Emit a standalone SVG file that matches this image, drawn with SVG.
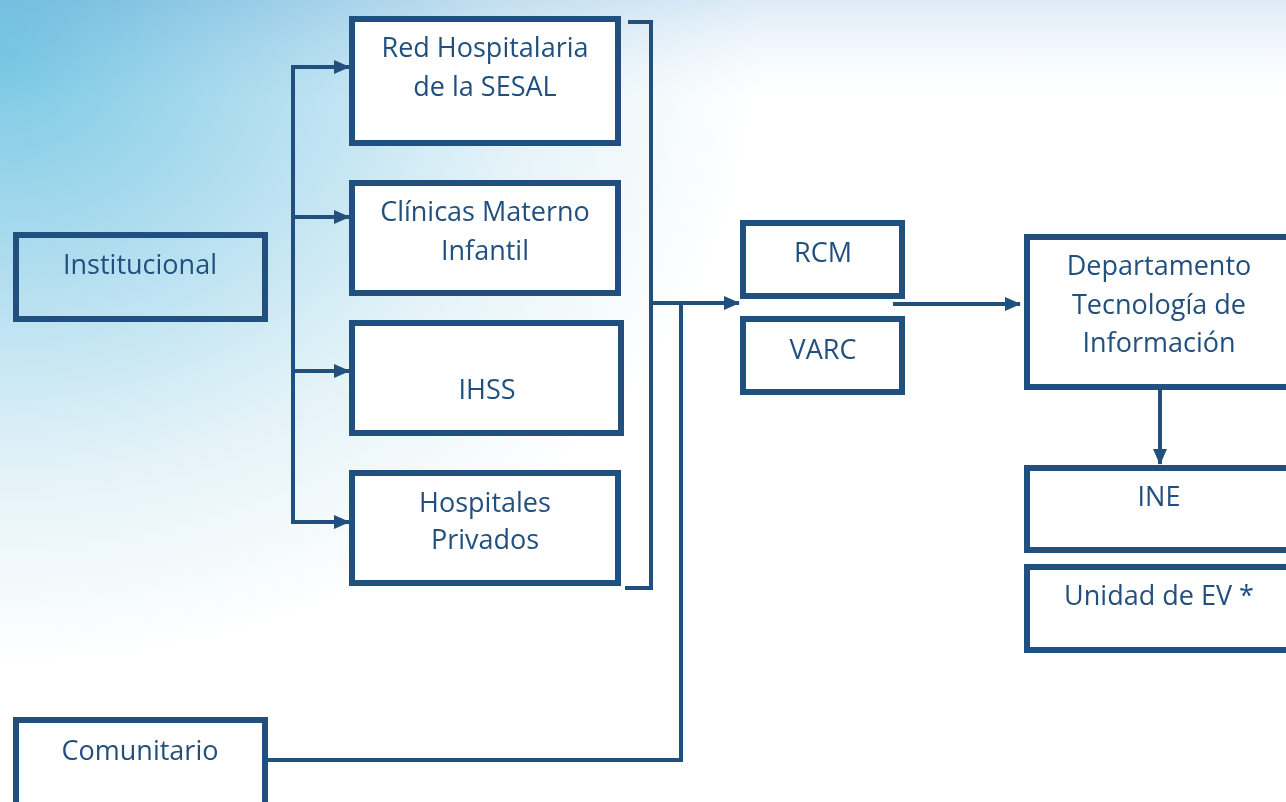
<svg xmlns="http://www.w3.org/2000/svg" width="1286" height="802" viewBox="0 0 1286 802">
<defs>
<radialGradient id="bg" gradientUnits="userSpaceOnUse" cx="0" cy="60" r="950" gradientTransform="translate(0,60) scale(1,0.8) translate(0,-60)">
<stop offset="0" stop-color="#7ac9e4"/>
<stop offset="0.3" stop-color="#b5dff0"/>
<stop offset="0.55" stop-color="#e4f3f8"/>
<stop offset="0.8" stop-color="#ffffff"/>
</radialGradient>
<linearGradient id="top" x1="0" y1="0" x2="0" y2="100" gradientUnits="userSpaceOnUse">
<stop offset="0" stop-color="#dcebf7" stop-opacity="1"/>
<stop offset="1" stop-color="#f2f7fc" stop-opacity="0"/>
</linearGradient>
<marker id="arr" markerUnits="userSpaceOnUse" markerWidth="16" markerHeight="14" refX="15" refY="7" orient="auto">
<path d="M0,0 L16,7 L0,14 Z" fill="#22507e"/>
</marker>
<style>
.box{fill:#ffffff;stroke:#22507e;stroke-width:6}
.open{fill:none;stroke:#22507e;stroke-width:6}
.ln{fill:none;stroke:#22507e;stroke-width:4}
.t{font-family:"Open Sans","Liberation Sans",sans-serif;font-size:27px;fill:#22507e;text-anchor:middle}
</style>
</defs>
<rect x="0" y="0" width="1286" height="802" fill="#ffffff"/>
<rect x="0" y="0" width="1286" height="100" fill="url(#top)"/>
<rect x="0" y="0" width="1286" height="802" fill="url(#bg)" style="mix-blend-mode:multiply"/>
<g id="connectors">
<path class="ln" d="M293,67 V522"/>
<path class="ln" d="M291,67 H349" marker-end="url(#arr)"/>
<path class="ln" d="M293,217 H349" marker-end="url(#arr)"/>
<path class="ln" d="M293,371 H349" marker-end="url(#arr)"/>
<path class="ln" d="M291,522 H349" marker-end="url(#arr)"/>
<path class="ln" d="M628,22 H651 V588 H625"/>
<path class="ln" d="M651,303 H739" marker-end="url(#arr)"/>
<path class="ln" d="M268,760 H681 V303"/>
<path class="ln" d="M893,304 H1020" marker-end="url(#arr)"/>
<path class="ln" d="M1160,390 V464" marker-end="url(#arr)"/>
</g>
<g id="institucional">
<rect class="open" x="16" y="235" width="249" height="84"/>
<text class="t" x="140" y="274">Institucional</text>
</g>
<g id="red-hospitalaria">
<rect class="box" x="352" y="19" width="266" height="124"/>
<text class="t" x="485" y="57">Red Hospitalaria</text>
<text class="t" x="485" y="96">de la SESAL</text>
</g>
<g id="clinicas">
<rect class="box" x="352" y="183" width="266" height="110"/>
<text class="t" x="485" y="221">Clínicas Materno</text>
<text class="t" x="485" y="260">Infantil</text>
</g>
<g id="ihss">
<rect class="box" x="352" y="323" width="269" height="110"/>
<text class="t" x="487" y="399">IHSS</text>
</g>
<g id="hospitales-privados">
<rect class="box" x="352" y="473" width="266" height="110"/>
<text class="t" x="485" y="512">Hospitales</text>
<text class="t" x="485" y="549">Privados</text>
</g>
<g id="comunitario">
<rect class="open" x="16" y="720" width="249" height="86"/>
<text class="t" x="140" y="760">Comunitario</text>
</g>
<g id="rcm">
<rect class="box" x="743" y="223" width="159" height="73"/>
<text class="t" x="823" y="262">RCM</text>
</g>
<g id="varc">
<rect class="box" x="743" y="319" width="159" height="73"/>
<text class="t" x="823" y="359">VARC</text>
</g>
<g id="departamento">
<rect class="box" x="1027" y="237" width="266" height="150"/>
<text class="t" x="1159" y="275">Departamento</text>
<text class="t" x="1159" y="314">Tecnología de</text>
<text class="t" x="1159" y="352">Información</text>
</g>
<g id="ine">
<rect class="box" x="1027" y="468" width="266" height="82"/>
<text class="t" x="1159" y="506">INE</text>
</g>
<g id="unidad-ev">
<rect class="box" x="1027" y="567" width="266" height="83"/>
<text class="t" x="1159" y="605">Unidad de EV *</text>
</g>
</svg>
